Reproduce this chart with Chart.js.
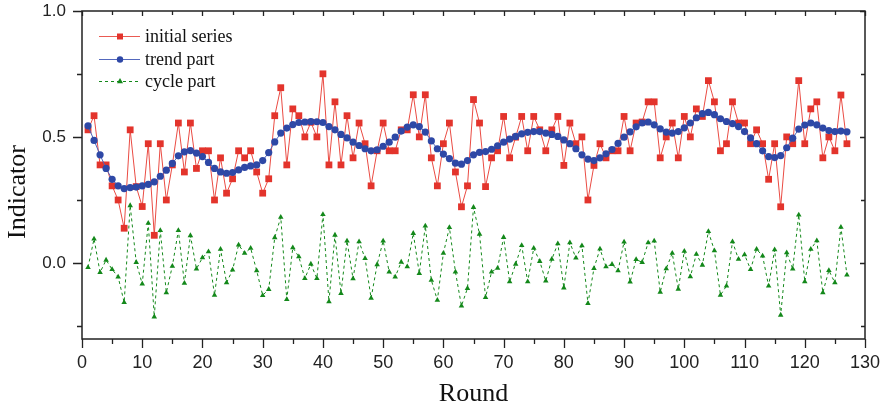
<!DOCTYPE html>
<html>
<head>
<meta charset="utf-8">
<script src="https://cdn.jsdelivr.net/npm/chart.js"></script>
<style>
  html, body { margin: 0; padding: 0; background: #fff; }
</style>
</head>
<body>
<canvas id="chart" width="885" height="409"></canvas>
<script>
// Rounds 1..127
const rounds = Array.from({length: 127}, (_, i) => i + 1);

const initialSeries = [
  0.529, 0.585, 0.390, 0.390, 0.307, 0.251, 0.139, 0.529, 0.304, 0.225,
  0.474, 0.111, 0.474, 0.251, 0.390, 0.556, 0.362, 0.556, 0.376, 0.446,
  0.446, 0.251, 0.418, 0.278, 0.335, 0.446, 0.418, 0.446, 0.362, 0.278,
  0.335, 0.585, 0.696, 0.390, 0.612, 0.585, 0.501, 0.559, 0.501, 0.751,
  0.390, 0.640, 0.390, 0.585, 0.418, 0.556, 0.474, 0.307, 0.446, 0.556,
  0.446, 0.446, 0.529, 0.529, 0.668, 0.501, 0.668, 0.418, 0.307, 0.474,
  0.556, 0.362, 0.224, 0.307, 0.649, 0.556, 0.304, 0.418, 0.446, 0.582,
  0.418, 0.500, 0.582, 0.446, 0.582, 0.529, 0.446, 0.529, 0.582, 0.388,
  0.556, 0.474, 0.501, 0.251, 0.388, 0.474, 0.418, 0.446, 0.446, 0.582,
  0.446, 0.556, 0.560, 0.640, 0.640, 0.418, 0.501, 0.556, 0.418, 0.582,
  0.501, 0.612, 0.582, 0.724, 0.640, 0.446, 0.474, 0.640, 0.556, 0.556,
  0.474, 0.529, 0.474, 0.333, 0.474, 0.224, 0.501, 0.474, 0.724, 0.474,
  0.612, 0.640, 0.418, 0.501, 0.446, 0.667, 0.474
];

const trendPart = [
  0.545, 0.487, 0.430, 0.376, 0.333, 0.307, 0.296, 0.300, 0.302, 0.307,
  0.313, 0.323, 0.345, 0.369, 0.396, 0.426, 0.442, 0.447, 0.437, 0.423,
  0.400, 0.376, 0.362, 0.357, 0.360, 0.370, 0.380, 0.386, 0.390, 0.407,
  0.439, 0.481, 0.516, 0.536, 0.550, 0.558, 0.560, 0.562, 0.561, 0.558,
  0.542, 0.529, 0.511, 0.497, 0.480, 0.467, 0.454, 0.446, 0.450, 0.464,
  0.480, 0.500, 0.524, 0.540, 0.549, 0.542, 0.520, 0.485, 0.454, 0.433,
  0.415, 0.397, 0.393, 0.407, 0.430, 0.440, 0.443, 0.452, 0.466, 0.480,
  0.492, 0.503, 0.513, 0.519, 0.522, 0.522, 0.516, 0.511, 0.503, 0.489,
  0.474, 0.454, 0.430, 0.413, 0.407, 0.418, 0.434, 0.451, 0.475, 0.500,
  0.521, 0.541, 0.556, 0.560, 0.549, 0.533, 0.520, 0.516, 0.522, 0.537,
  0.556, 0.577, 0.593, 0.598, 0.589, 0.573, 0.562, 0.554, 0.542, 0.522,
  0.497, 0.474, 0.446, 0.423, 0.419, 0.427, 0.458, 0.496, 0.532, 0.548,
  0.556, 0.549, 0.536, 0.526, 0.522, 0.524, 0.521
];

const cyclePart = [
  -0.016, 0.097, -0.036, 0.013, -0.024, -0.054, -0.155, 0.229, 0.004, -0.082,
  0.159, -0.212, 0.130, -0.116, -0.011, 0.130, -0.079, 0.110, -0.022, 0.022,
  0.046, -0.126, 0.056, -0.077, -0.026, 0.073, 0.040, 0.060, -0.029, -0.127,
  -0.103, 0.102, 0.183, -0.143, 0.062, 0.026, -0.060, -0.003, -0.060, 0.194,
  -0.152, 0.112, -0.119, 0.089, -0.061, 0.086, 0.019, -0.138, -0.005, 0.089,
  -0.034, -0.054, 0.005, -0.013, 0.119, -0.040, 0.148, -0.067, -0.146, 0.040,
  0.142, -0.034, -0.169, -0.099, 0.222, 0.116, -0.135, -0.034, -0.019, 0.103,
  -0.073, -0.003, 0.071, -0.073, 0.060, 0.008, -0.070, 0.016, 0.078, -0.097,
  0.082, 0.021, 0.070, -0.159, -0.020, 0.057, -0.013, -0.004, -0.029, 0.085,
  -0.074, 0.015, 0.004, 0.082, 0.089, -0.114, -0.021, 0.040, -0.102, 0.048,
  -0.053, 0.036, -0.007, 0.126, 0.050, -0.126, -0.090, 0.086, 0.016, 0.034,
  -0.024, 0.056, 0.029, -0.090, 0.054, -0.205, 0.042, -0.022, 0.192, -0.073,
  0.056, 0.090, -0.116, -0.028, -0.077, 0.143, -0.046
];

const xTicks = [0, 10, 20, 30, 40, 50, 60, 70, 80, 90, 100, 110, 120, 130];
const yTicks = [0.0, 0.5, 1.0];
const legendLabels = ['initial series', 'trend part', 'cycle part'];

const RED = '#e3342c', BLUE = '#2e48a6', GREEN = '#13881a';
const SANS = "'Liberation Sans', Arial, sans-serif";
const SERIF = "'Liberation Serif', 'Times New Roman', serif";

function pts(vals) {
  return vals.map((v, i) => ({x: rounds[i], y: v}));
}

function marker(ctx, shape, x, y, r, color) {
  ctx.fillStyle = color;
  ctx.beginPath();
  if (shape === 'rect') {
    ctx.rect(x - r, y - r, 2 * r, 2 * r);
  } else if (shape === 'circle') {
    ctx.arc(x, y, r, 0, Math.PI * 2);
  } else {
    ctx.moveTo(x, y - r);
    ctx.lineTo(x + r * 0.87, y + r * 0.5);
    ctx.lineTo(x - r * 0.87, y + r * 0.5);
    ctx.closePath();
  }
  ctx.fill();
}

// keep the plot box where the reference has it
function noPad(s) {
  s.paddingTop = 0;
  s.paddingBottom = 0;
  s.paddingLeft = 0;
  s.paddingRight = 0;
}

// frame, minor ticks, axis titles and the legend
const decorations = {
  id: 'decorations',
  afterDraw(chart) {
    const {ctx, chartArea: a, scales: {x, y}} = chart;
    ctx.save();
    ctx.strokeStyle = '#222';
    ctx.lineWidth = 1.5;
    ctx.strokeRect(a.left, a.top, a.right - a.left, a.bottom - a.top);

    ctx.lineWidth = 1.3;
    ctx.beginPath();
    for (let v = 0; v <= 130; v += 5) {
      const px = Math.round(x.getPixelForValue(v)) + 0.5;
      const major = v % 10 === 0;
      ctx.moveTo(px, a.bottom);
      ctx.lineTo(px, a.bottom + (major ? 9 : 5));
      ctx.moveTo(px, a.top);
      ctx.lineTo(px, a.top + (major ? 5 : 4));
    }
    for (let k = -1; k <= 4; k++) {
      const v = k * 0.25;
      const py = Math.round(y.getPixelForValue(v)) + 0.5;
      const major = k % 2 === 0;
      ctx.moveTo(a.left, py);
      ctx.lineTo(a.left - (major ? 9 : 5), py);
      ctx.moveTo(a.right, py);
      ctx.lineTo(a.right - (major ? 5 : 4), py);
    }
    ctx.stroke();

    // axis titles
    ctx.fillStyle = '#111';
    ctx.font = '26px ' + SERIF;
    ctx.textAlign = 'center';
    ctx.textBaseline = 'alphabetic';
    ctx.fillText('Round', (a.left + a.right) / 2, 401);
    ctx.save();
    ctx.translate(25, 192);
    ctx.rotate(-Math.PI / 2);
    ctx.fillText('Indicator', 0, 0);
    ctx.restore();

    // legend
    const rows = [
      {y: 36, color: RED, line: '#ea5a52', dash: [], shape: 'rect', r: 3},
      {y: 59, color: BLUE, line: '#5468bd', dash: [], shape: 'circle', r: 3.2},
      {y: 81, color: GREEN, line: GREEN, dash: [3, 3], shape: 'tri', r: 3.5}
    ];
    ctx.font = '18px ' + SERIF;
    ctx.textAlign = 'left';
    ctx.textBaseline = 'middle';
    rows.forEach((row, i) => {
      ctx.strokeStyle = row.line;
      ctx.lineWidth = 1;
      ctx.setLineDash(row.dash);
      ctx.beginPath();
      ctx.moveTo(99, row.y + 0.5);
      ctx.lineTo(140, row.y + 0.5);
      ctx.stroke();
      ctx.setLineDash([]);
      marker(ctx, row.shape, 120, row.y + 0.5, row.r, row.color);
      ctx.fillStyle = '#111';
      ctx.fillText(legendLabels[i], 145, row.y + 1);
    });
    ctx.restore();
  }
};

new Chart(document.getElementById('chart'), {
  type: 'line',
  data: {
    datasets: [
      {
        label: legendLabels[1],
        data: pts(trendPart),
        borderColor: '#4d63bb',
        borderWidth: 1,
        pointStyle: 'circle',
        pointRadius: 3.6,
        pointBackgroundColor: BLUE,
        pointBorderColor: BLUE,
        pointBorderWidth: 0,
        tension: 0,
        order: 0
      },
      {
        label: legendLabels[0],
        data: pts(initialSeries),
        borderColor: '#ea4b43',
        borderWidth: 1,
        pointStyle: 'rect',
        pointRadius: 4.8,
        pointBackgroundColor: RED,
        pointBorderColor: RED,
        pointBorderWidth: 0,
        tension: 0,
        order: 1
      },
      {
        label: legendLabels[2],
        data: pts(cyclePart),
        borderColor: GREEN,
        borderWidth: 1,
        borderDash: [3, 3],
        pointStyle: 'triangle',
        pointRadius: 3.2,
        pointBackgroundColor: GREEN,
        pointBorderColor: GREEN,
        pointBorderWidth: 0,
        tension: 0,
        order: 2
      }
    ]
  },
  options: {
    responsive: false,
    animation: false,
    layout: { padding: { top: 11, right: 20, left: 0, bottom: 0 } },
    plugins: { legend: { display: false }, tooltip: { enabled: false } },
    scales: {
      x: {
        type: 'linear',
        min: 0,
        max: 130,
        afterBuildTicks: s => { s.ticks = xTicks.map(v => ({value: v})); },
        afterFit: s => { s.height = 70; noPad(s); },
        grid: { display: false, drawTicks: false },
        border: { display: false },
        ticks: {
          padding: 13,
          color: '#222',
          autoSkip: false,
          maxRotation: 0,
          font: { family: SANS, size: 18 }
        }
      },
      y: {
        type: 'linear',
        min: -0.3,
        max: 1.0,
        afterBuildTicks: s => { s.ticks = yTicks.map(v => ({value: v})); },
        afterFit: s => { s.width = 82; noPad(s); },
        grid: { display: false, drawTicks: false },
        border: { display: false },
        ticks: {
          padding: 16,
          color: '#222',
          font: { family: SANS, size: 17 },
          callback: v => v.toFixed(1)
        }
      }
    }
  },
  plugins: [decorations]
});
</script>
</body>
</html>
